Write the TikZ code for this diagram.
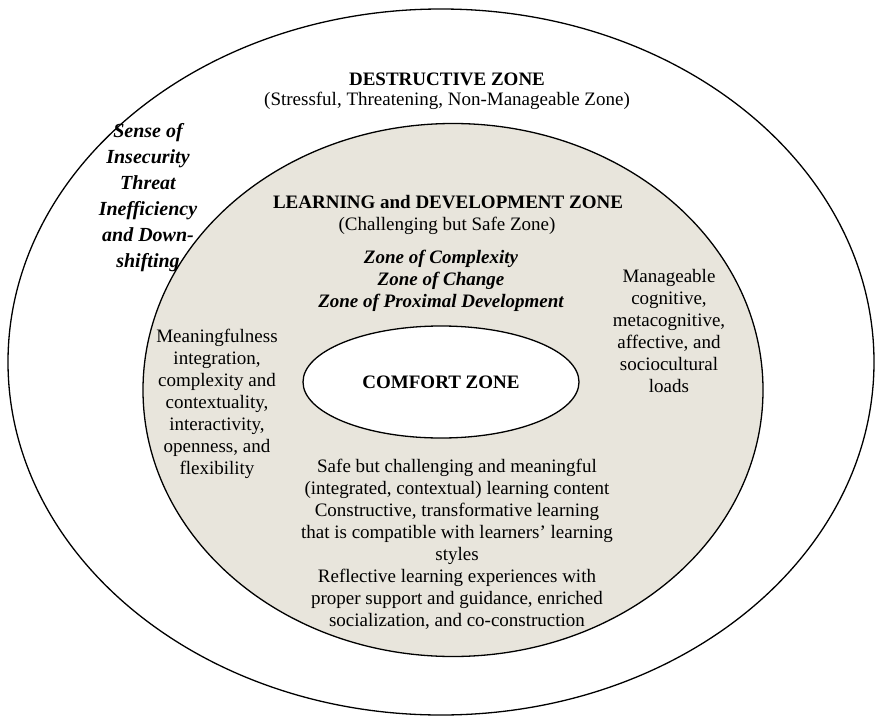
\documentclass[tikz,border=0pt]{standalone}
\usepackage{fontspec}
\setmainfont{Liberation Serif}
\usetikzlibrary{shapes.geometric}
\definecolor{beige}{RGB}{232,229,220}
\tikzset{
  zone/.style={ellipse, draw=black, line width=1.3pt, inner sep=0pt},
  txt/.style={align=center, font=\fontsize{19}{22}\selectfont, inner sep=0pt},
  hdr/.style={txt, font=\fontsize{19}{22}\selectfont\bfseries},
  bi/.style={align=center, font=\fontsize{19}{22}\selectfont\bfseries\itshape, inner sep=0pt},
  side/.style={align=center, font=\fontsize{20}{26}\selectfont\bfseries\itshape, inner sep=0pt}
}
\begin{document}
\begin{tikzpicture}[x=1pt,y=-1pt]
\useasboundingbox (0,0) rectangle (879,720);
\node[zone, fill=white, minimum width=866pt, minimum height=706pt] (outer) at (441,362) {};
\node[zone, fill=beige, minimum width=620pt, minimum height=533pt] (mid) at (453,390) {};
\node[zone, fill=white, minimum width=276pt, minimum height=112pt] (inner) at (441,382) {};

\node[hdr] (dz) at (447,79) {DESTRUCTIVE ZONE};
\node[txt] (dzs) at (447,101) {(Stressful, Threatening, Non-Manageable Zone)};

\node[side] (sense) at (148,198) {Sense of\\Insecurity\\Threat\\Inefficiency\\and Down-\\shifting};

\node[hdr] (ld) at (448,202) {LEARNING and DEVELOPMENT ZONE};
\node[txt] (lds) at (447,226) {(Challenging but Safe Zone)};
\node[bi] (zones) at (441,281) {Zone of Complexity\\Zone of Change\\Zone of Proximal Development};

\node[txt] (manage) at (669,331) {Manageable\\cognitive,\\metacognitive,\\affective, and\\sociocultural\\loads};

\node[txt] (mean) at (217,404) {Meaningfulness\\integration,\\complexity and\\contextuality,\\interactivity,\\openness, and\\flexibility};

\node[hdr] (cz) at (inner.center) {COMFORT ZONE};

\node[txt] (safe) at (457,544) {Safe but challenging and meaningful\\(integrated, contextual) learning content\\Constructive, transformative learning\\that is compatible with learners' learning\\styles\\Reflective learning experiences with\\proper support and guidance, enriched\\socialization, and co-construction};
\end{tikzpicture}
\end{document}
